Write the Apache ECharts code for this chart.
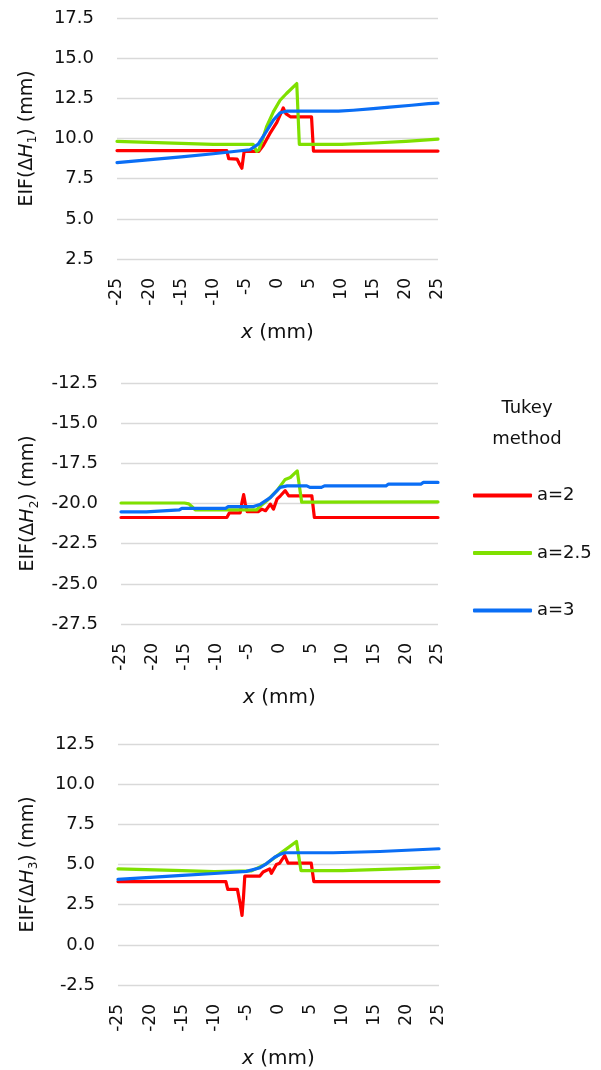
<!DOCTYPE html>
<html>
<head>
<meta charset="utf-8">
<script src="https://cdn.jsdelivr.net/npm/echarts@6/dist/echarts.min.js"></script>
<style>html,body{margin:0;padding:0;background:#fff}#c{width:601px;height:1070px}</style>
</head>
<body>
<div id="c"></div>
<script>
// ---- data ----
const seriesNames = ['a=2', 'a=2.5', 'a=3'];
const xTicks = [-25, -20, -15, -10, -5, 0, 5, 10, 15, 20, 25];
const yTicks1 = [2.5, 5.0, 7.5, 10.0, 12.5, 15.0, 17.5];
const yTicks2 = [-27.5, -25.0, -22.5, -20.0, -17.5, -15.0, -12.5];
const yTicks3 = [-2.5, 0.0, 2.5, 5.0, 7.5, 10.0, 12.5];

// Panel 1: EIF(ΔH1)
const h1Red = [[-25,9.25],[-7.9,9.25],[-7.6,8.75],[-6.3,8.72],[-5.9,8.4],[-5.55,8.15],[-5.2,9.2],[-2.9,9.2],[-2.2,9.58],[-1.2,10.3],[-0.1,11.0],[0.4,11.45],[0.9,11.9],[1.3,11.55],[2.0,11.35],[5.3,11.35],[5.6,9.22],[25,9.22]];
const h1Green = [[-25,9.82],[-15,9.7],[-10,9.64],[-3.8,9.64],[-3.25,9.2],[-2.9,9.3],[-2.45,9.8],[-1.7,10.73],[-0.65,11.66],[0.4,12.38],[1.4,12.8],[3.0,13.42],[3.4,9.64],[10,9.64],[15,9.72],[20,9.82],[25,9.96]];
const h1Blue = [[-25,8.5],[-15,8.86],[-10,9.05],[-4.3,9.3],[-3.0,9.65],[-1.95,10.3],[-0.65,11.14],[0.4,11.6],[1.4,11.7],[9.5,11.7],[11.8,11.76],[14.9,11.86],[17.5,11.95],[20.9,12.07],[23.5,12.17],[25,12.2]];

// Panel 2: EIF(ΔH2)
const h2Red = [[-25,-20.87],[-8.3,-20.87],[-7.9,-20.58],[-6.2,-20.58],[-5.9,-19.9],[-5.65,-19.45],[-5.4,-20.0],[-5.1,-20.5],[-3.3,-20.5],[-2.8,-20.35],[-2.2,-20.45],[-1.45,-20.04],[-0.95,-20.35],[-0.4,-19.73],[0.15,-19.52],[0.9,-19.2],[1.45,-19.52],[5.1,-19.52],[5.5,-20.87],[25,-20.87]];
const h2Green = [[-25,-19.97],[-15,-19.97],[-14.3,-20.02],[-13.8,-20.2],[-13.3,-20.4],[-3.6,-20.4],[-3.0,-20.15],[-2.0,-19.83],[-0.4,-19.2],[0.9,-18.5],[1.7,-18.38],[2.8,-17.97],[3.5,-19.92],[25,-19.9]];
const h2Blue = [[-25,-20.52],[-21,-20.52],[-20.7,-20.4],[-15.8,-20.4],[-15.4,-20.3],[-8.5,-20.3],[-8.1,-20.2],[-4.2,-20.2],[-3.0,-20.04],[-1.45,-19.63],[0.1,-19.0],[1.2,-18.9],[4.3,-18.9],[4.8,-19.0],[6.6,-19.0],[7.1,-18.9],[16.8,-18.9],[17.2,-18.79],[22.3,-18.79],[22.7,-18.69],[25,-18.69]];

// Panel 3: EIF(ΔH3)
const h3Red = [[-25,3.94],[-8.2,3.94],[-7.9,3.45],[-6.4,3.45],[-5.95,2.5],[-5.68,1.83],[-5.45,3.0],[-5.25,4.28],[-2.9,4.28],[-2.4,4.53],[-1.37,4.73],[-1.1,4.45],[-0.33,5.0],[0.19,5.08],[0.97,5.56],[1.48,5.08],[5.1,5.08],[5.5,3.94],[25,3.94]];
const h3Green = [[-25,4.73],[-15,4.62],[-10,4.56],[-4.2,4.6],[-2.0,5.02],[0.2,5.66],[2.8,6.43],[3.5,4.62],[10,4.62],[15,4.68],[20,4.74],[25,4.82]];
const h3Blue = [[-25,4.07],[-15,4.32],[-10,4.44],[-5.0,4.57],[-3.0,4.78],[-1.9,5.04],[-0.6,5.45],[0.19,5.62],[1.0,5.73],[8.5,5.73],[15.8,5.81],[25,5.98]];

// ---- chart ----
const FONT = 'DejaVu Sans';
const TXT = '#111';
const colors = ['#FF0000', '#7FE000', '#0A6EF5'];

const grids = [
  {left: 117, top: 18, width: 321, height: 241},
  {left: 121, top: 383, width: 317, height: 241},
  {left: 118, top: 744, width: 321, height: 242}
];
const yTickSets = [yTicks1, yTicks2, yTicks3];
const subs = ['1', '2', '3'];

const xAxes = grids.map((g, i) => ({
  type: 'value', gridIndex: i, min: xTicks[0], max: xTicks[xTicks.length - 1], interval: 5,
  axisLine: {show: false}, axisTick: {show: false}, splitLine: {show: false},
  axisLabel: {rotate: 90, margin: 19, fontFamily: FONT, fontSize: 17, color: TXT},
  name: '{i|x} (mm)', nameLocation: 'middle', nameGap: 64,
  nameTextStyle: {fontFamily: FONT, fontSize: 20, color: TXT, rich: {i: {fontFamily: FONT, fontSize: 20, fontStyle: 'italic', color: TXT}}}
}));
const yAxes = grids.map((g, i) => {
  const t = yTickSets[i];
  return {
    type: 'value', gridIndex: i, min: t[0], max: t[t.length - 1], interval: 2.5,
    axisLine: {show: false}, axisTick: {show: false},
    splitLine: {show: true, lineStyle: {color: '#D9D9D9', width: 1.3}},
    axisLabel: {margin: 23, fontFamily: FONT, fontSize: 18, color: TXT, formatter: v => v.toFixed(1)},
    name: '{n|EIF(Δ}{i|H}{s|' + subs[i] + '}{n|) (mm)}', nameLocation: 'middle', nameRotate: 90, nameGap: 78,
    nameTextStyle: {fontFamily: FONT, fontSize: 19, color: TXT, rich: {
      n: {fontFamily: FONT, fontSize: 19, color: TXT, lineHeight: 24},
      i: {fontFamily: FONT, fontSize: 19, fontStyle: 'italic', color: TXT, lineHeight: 24},
      s: {fontFamily: FONT, fontSize: 12, color: TXT, lineHeight: 12, verticalAlign: 'bottom'}
    }}
  };
});

const panels = [[h1Red, h1Green, h1Blue], [h2Red, h2Green, h2Blue], [h3Red, h3Green, h3Blue]];
const series = [];
panels.forEach((p, i) => {
  p.forEach((d, k) => {
    series.push({
      type: 'line', name: seriesNames[k], xAxisIndex: i, yAxisIndex: i, data: d,
      showSymbol: false, symbol: 'none', smooth: false,
      lineStyle: {color: colors[k], width: 3.2, cap: 'round', join: 'round'},
      itemStyle: {color: colors[k]}
    });
  });
});

const chart = echarts.init(document.getElementById('c'), null, {renderer: 'canvas'});
chart.setOption({
  animation: false,
  backgroundColor: '#fff',
  grid: grids,
  xAxis: xAxes,
  yAxis: yAxes,
  legend: {
    data: seriesNames, orient: 'vertical', left: 468, top: 480.5,
    icon: 'roundRect', itemWidth: 59, itemHeight: 4, itemGap: 37.5,
    textStyle: {fontFamily: FONT, fontSize: 18, color: TXT, lineHeight: 20}
  },
  graphic: [{
    type: 'text', x: 527, y: 424,
    style: {text: 'Tukey\nmethod', align: 'center', verticalAlign: 'middle', fontFamily: FONT, fontSize: 18, lineHeight: 31, fill: TXT}
  }],
  series: series
});
</script>
</body>
</html>
